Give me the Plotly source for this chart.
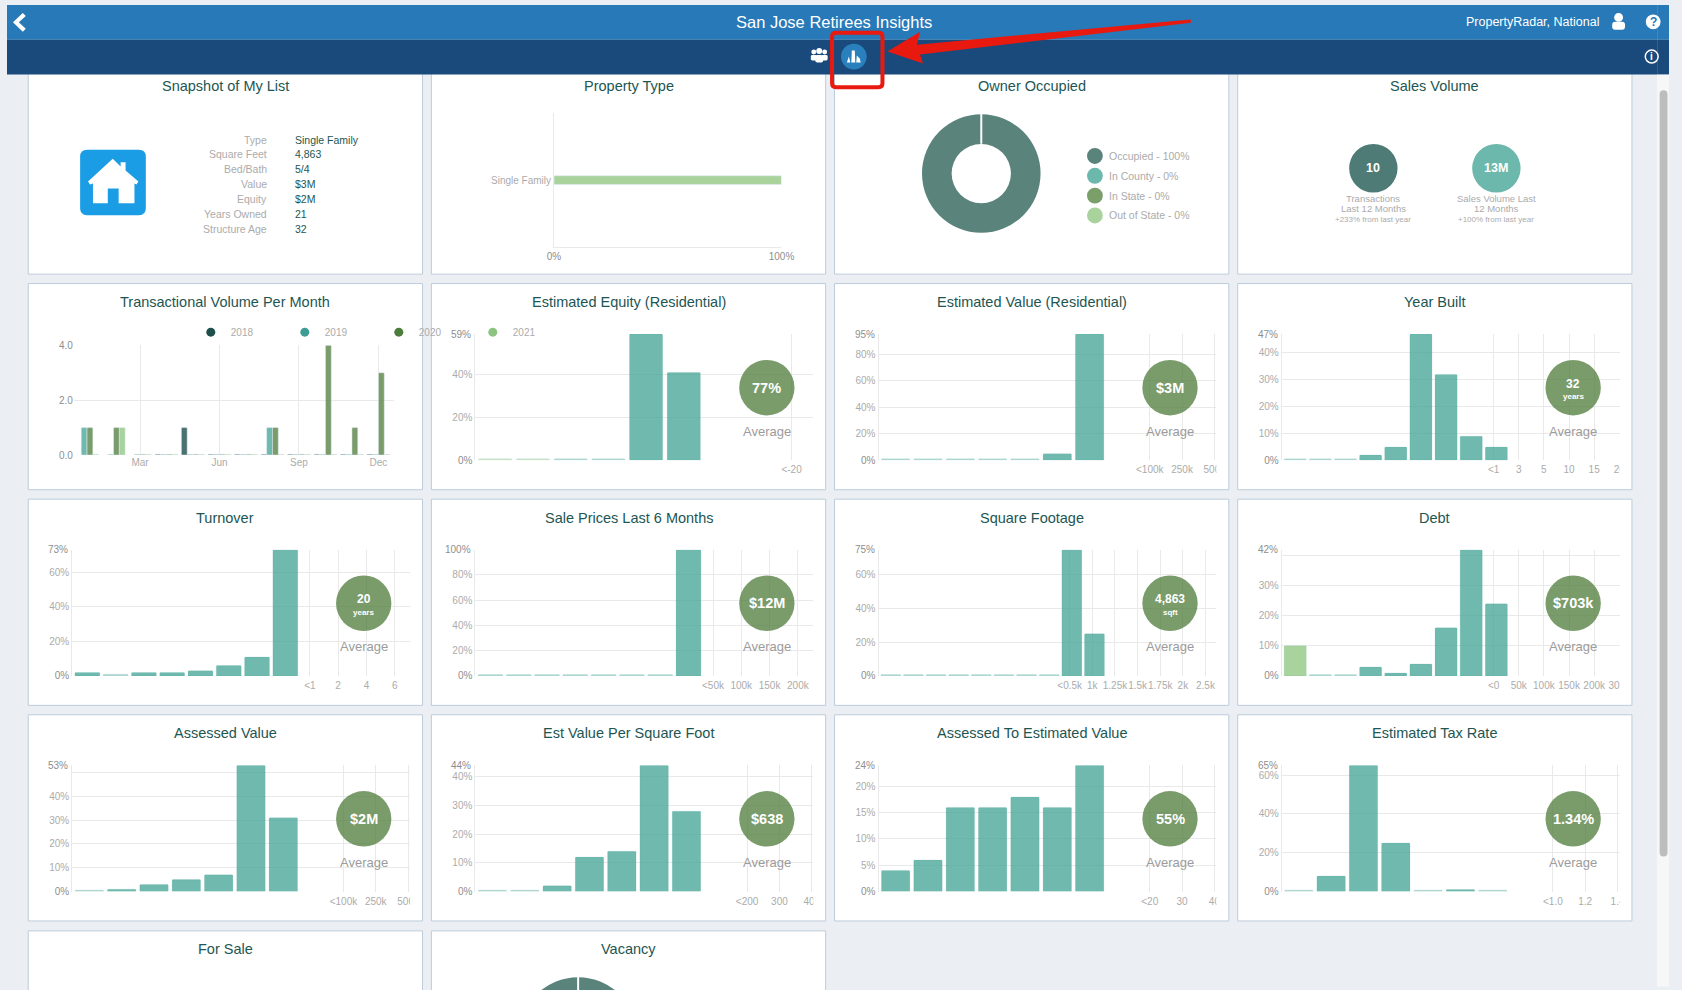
import plotly.graph_objects as go

W, H = 1682, 1150  # taller than the window, the last row runs off the bottom

FONT = "Liberation Sans"
TITLE_COLOR = "#1D5652"
GRAY = "#ABABAB"
GRAY_DARK = "#8E8E8E"
GRID = "#E9E9E9"
BG = "#EBEFF3"
BORDER = "#BCCCDB"
TEAL = "rgba(63,161,147,0.75)"
TEAL_PALE = "rgba(63,161,147,0.38)"
GREEN_LIGHT = "#A9D39D"
GREEN_PALE = "#D3E7CC"
AVG_GREEN = "rgba(80,125,60,0.76)"

# --- Data ---
MONTHS = ["Jan", "Feb", "Mar", "Apr", "May", "Jun", "Jul", "Aug", "Sep", "Oct", "Nov", "Dec"]
MONTH_TICKS = ["Mar", "Jun", "Sep", "Dec"]
YEARS = ["2018", "2019", "2020", "2021"]
VOLUME_2018 = [None, None, None, 0.03, 1, 0.03, 0.03, 0.03, 0.03, 0.03, 0.03, 0.03]
VOLUME_2019 = [1, 0.03, 0.03, 0.03, 0.03, 0.03, 0.03, 1, 0.03, 0.03, 0.03, 0.03]
VOLUME_2020 = [1, 1, 0.03, 0.03, 0.03, 0.03, 0.03, 1, 0.03, 4, 1, 3]
VOLUME_2021 = [0.03, 1, 0.03, 0.03, 0.03, 0.03, 0.03, 0.03, 0.03, 0.03, 0.03, 0.03]

OWNER_LABELS = ["Occupied - 100%", "In County - 0%", "In State - 0%", "Out of State - 0%"]
OWNER_VALUES = [100, 0, 0, 0]
VACANCY_VALUES = [100, 0, 0, 0]

SNAPSHOT_KEYS = ["Type", "Square Feet", "Bed/Bath", "Value", "Equity", "Years Owned", "Structure Age"]
SNAPSHOT_VALUES = ["Single Family", "4,863", "5/4", "$3M", "$2M", "21", "32"]

PROPERTY_TYPES = ["Single Family"]
PROPERTY_SHARE = [100]

EQUITY_VALUES = [0.7, 0.7, 0.7, 0.7, 59, 41]
EQUITY_TICKS = [0, 20, 40]
EQUITY_LABELS = ["<-20"]
VALUE_VALUES = [1.1, 1.1, 1.1, 1.1, 1.1, 5, 95]
VALUE_TICKS = [0, 20, 40, 60, 80]
VALUE_LABELS = ["<100k", "250k", "500k"]
BUILT_VALUES = [0.55, 0.55, 0.55, 2, 5, 47, 32, 9, 5]
BUILT_TICKS = [0, 10, 20, 30, 40]
BUILT_LABELS = ["<1", "3", "5", "10", "15", "20"]
TURNOVER_VALUES = [2, 1, 2, 2, 3, 6, 11, 73]
TURNOVER_TICKS = [0, 20, 40, 60]
TURNOVER_LABELS = ["<1", "2", "4", "6"]
SALES_VALUES = [1.2, 1.2, 1.2, 1.2, 1.2, 1.2, 1.2, 100]
SALES_TICKS = [0, 20, 40, 60, 80, 100]
SALES_LABELS = ["<50k", "100k", "150k", "200k"]
SQFT_VALUES = [0.9, 0.9, 0.9, 0.9, 0.9, 0.9, 0.9, 0.9, 75, 25]
SQFT_TICKS = [0, 20, 40, 60]
SQFT_LABELS = ["<0.5k", "1k", "1.25k", "1.5k", "1.75k", "2k", "2.5k"]
DEBT_VALUES = [10, 0.5, 0.5, 3, 1, 4, 16, 42, 24]
DEBT_TICKS = [0, 10, 20, 30, 40]
DEBT_LABELS = ["<0", "50k", "100k", "150k", "200k", "300k"]
ASSESSED_VALUES = [0.6, 1, 3, 5, 7, 53, 31]
ASSESSED_TICKS = [0, 10, 20, 30, 40, 50]
ASSESSED_LABELS = ["<100k", "250k", "500k"]
PERFOOT_VALUES = [0.5, 0.5, 2, 12, 14, 44, 28]
PERFOOT_TICKS = [0, 10, 20, 30, 40]
PERFOOT_LABELS = ["<200", "300", "400"]
RATIO_VALUES = [4, 6, 16, 16, 18, 16, 24]
RATIO_TICKS = [0, 5, 10, 15, 20]
RATIO_LABELS = ["<20", "30", "40"]
TAX_VALUES = [0.8, 8, 65, 25, 0.8, 1, 0.8]
TAX_TICKS = [0, 20, 40, 60]
TAX_LABELS = ["<1.0", "1.2", "1.4"]

# title, values, y ticks, x labels, average, unit, green bins, column, row, first label offset
HISTOGRAMS = [
    ("Estimated Equity (Residential)", EQUITY_VALUES, EQUITY_TICKS, EQUITY_LABELS, "77%", "", 2, 1, 1, 364.5),
    ("Estimated Value (Residential)", VALUE_VALUES, VALUE_TICKS, VALUE_LABELS, "$3M", "", 0, 2, 1, 319),
    ("Year Built", BUILT_VALUES, BUILT_TICKS, BUILT_LABELS, "32", "years", 0, 3, 1, 259),
    ("Turnover", TURNOVER_VALUES, TURNOVER_TICKS, TURNOVER_LABELS, "20", "years", 0, 0, 2, 285),
    ("Sale Prices Last 6 Months", SALES_VALUES, SALES_TICKS, SALES_LABELS, "$12M", "", 0, 1, 2, 285),
    ("Square Footage", SQFT_VALUES, SQFT_TICKS, SQFT_LABELS, "4,863", "sqft", 0, 2, 2, 238),
    ("Debt", DEBT_VALUES, DEBT_TICKS, DEBT_LABELS, "$703k", "", 1, 3, 2, 259),
    ("Assessed Value", ASSESSED_VALUES, ASSESSED_TICKS, ASSESSED_LABELS, "$2M", "", 0, 0, 3, 319),
    ("Est Value Per Square Foot", PERFOOT_VALUES, PERFOOT_TICKS, PERFOOT_LABELS, "$638", "", 0, 1, 3, 319.5),
    ("Assessed To Estimated Value", RATIO_VALUES, RATIO_TICKS, RATIO_LABELS, "55%", "", 0, 2, 3, 319),
    ("Estimated Tax Rate", TAX_VALUES, TAX_TICKS, TAX_LABELS, "1.34%", "", 0, 3, 3, 319),
]

CARD_X = [21.5, 429.5, 837.5, 1245.5]
CARD_Y = [63.5, 281, 498.5, 716, 934]
CARD_W, CARD_H = 399, 208

fig = go.Figure()
shapes = []
notes = []
axes = {}


def fx(x):
    return x / W


def fy(y):
    return 1 - y / H


def text(x, y, s, size=10, color=GRAY, anchor="center"):
    notes.append(dict(x=fx(x), y=fy(y), xref="paper", yref="paper", text=s, showarrow=False,
                      xanchor=anchor, yanchor="middle", font=dict(family=FONT, size=size, color=color)))


def rect(x0, y0, x1, y1, color, layer="below", line=None, width=0):
    shapes.append(dict(type="rect", xref="paper", yref="paper", x0=fx(x0), x1=fx(x1), y0=fy(y0), y1=fy(y1),
                       fillcolor=color, layer=layer, line=dict(color=line or color, width=width)))


def circle(cx, cy, r, color, layer="above", line=None, width=0):
    shapes.append(dict(type="circle", xref="paper", yref="paper", x0=fx(cx - r), x1=fx(cx + r),
                       y0=fy(cy + r), y1=fy(cy - r), fillcolor=color, layer=layer,
                       line=dict(color=line or color, width=width)))


def poly(points, color, layer="above"):
    path = "M" + " L".join(f"{fx(x):.5f} {fy(y):.5f}" for x, y in points) + " Z"
    shapes.append(dict(type="path", xref="paper", yref="paper", path=path, fillcolor=color,
                       layer=layer, line=dict(width=0)))


def round_rect(x0, y0, x1, y1, r, fill, line_color=None, width=0):
    def p(x, y):
        return f"{fx(x):.5f} {fy(y):.5f}"
    path = (f"M{p(x0 + r, y0)} L{p(x1 - r, y0)} Q{p(x1, y0)} {p(x1, y0 + r)} L{p(x1, y1 - r)} "
            f"Q{p(x1, y1)} {p(x1 - r, y1)} L{p(x0 + r, y1)} Q{p(x0, y1)} {p(x0, y1 - r)} "
            f"L{p(x0, y0 + r)} Q{p(x0, y0)} {p(x0 + r, y0)} Z")
    shapes.append(dict(type="path", xref="paper", yref="paper", path=path, fillcolor=fill, layer="above",
                       line=dict(color=line_color or fill, width=width)))


def card(col, row, title):
    x, y = CARD_X[col], CARD_Y[row]
    rect(x, y, x + CARD_W, y + CARD_H, "white", line=BORDER, width=1)
    text(x + CARD_W / 2, y + 18.5, title, 14.5, TITLE_COLOR)


def histogram(idx, spec):
    title, values, ticks, labels, avg, unit, green, col, row, first_px = spec
    L, T = CARD_X[col], CARD_Y[row]
    card(col, row, title)

    vmax = max(values)
    n = len(values)
    left, right = L + 44.5, L + 275.5
    slot = 229 / n
    pad = (right - left - 229) / 2 / slot
    clip = L + 386.5
    dom_y = [fy(T + 178.3), fy(T + 51)]
    gx, bx, yy = 2 * idx + 1, 2 * idx + 2, idx + 1

    # shifted label axis with its vertical grid, same slot width as the bars
    r0 = -(first_px + L - left) / slot
    axes[f"xaxis{gx}"] = dict(domain=[fx(left), fx(clip)], anchor=f"y{yy}", range=[r0, r0 + (clip - left) / slot],
                              tickvals=list(range(len(labels))), ticktext=labels, showgrid=True, gridcolor=GRID,
                              gridwidth=1, zeroline=False, showline=False, ticks="", ticklabelstandoff=2,
                              tickangle=0, tickfont=dict(family=FONT, size=10, color=GRAY))
    fig.add_trace(go.Scatter(x=[None], y=[None], xaxis=f"x{gx}", yaxis=f"y{yy}", showlegend=False, hoverinfo="skip"))

    tick_text = []
    for v in ticks:
        close = (vmax - v) / vmax * 127 < 8
        if v == 0:
            tick_text.append(f"<span style='color:{GRAY_DARK}'>0%</span>")
        else:
            tick_text.append("" if close else f"{v}%")
    axes[f"xaxis{bx}"] = dict(domain=[fx(left), fx(right)], anchor=f"y{yy}", range=[-0.5 - pad, n - 0.5 + pad],
                              showticklabels=False, showgrid=False, zeroline=False, showline=False, ticks="")
    axes[f"yaxis{yy}"] = dict(domain=dom_y, anchor=f"x{bx}", range=[0, vmax], tickvals=ticks, ticktext=tick_text,
                              showgrid=True, gridcolor=GRID, gridwidth=1, zeroline=False, showline=True,
                              linecolor=GRID, linewidth=1, ticks="", ticklabelstandoff=0,
                              tickfont=dict(family=FONT, size=10, color=GRAY))
    notes.append(dict(x=fx(left - 2), xref="paper", y=vmax, yref=f"y{yy}", text=f"{vmax}%", showarrow=False,
                      xanchor="right", yanchor="middle", font=dict(family=FONT, size=10, color=GRAY_DARK)))

    colors = []
    for i, v in enumerate(values):
        pale = v / vmax < 0.014
        if i < green:
            colors.append(GREEN_PALE if pale else GREEN_LIGHT)
        else:
            colors.append(TEAL_PALE if pale else TEAL)
    fig.add_trace(go.Bar(x=list(range(n)), y=values, xaxis=f"x{bx}", yaxis=f"y{yy}", showlegend=False,
                         marker=dict(color=colors, cornerradius=1, line=dict(color="rgba(63,161,147,0.12)", width=1))))

    # label clipped by the chart container
    rect(clip, T + 180, L + CARD_W - 1, T + 198, "white", layer="above")

    cx, cy = L + 339.5, T + 105
    circle(cx, cy, 28, AVG_GREEN)
    if unit:
        text(cx, cy - 4, f"<b>{avg}</b>", 12, "white")
        text(cx, cy + 9, f"<b>{unit}</b>", 8, "white")
    else:
        text(cx, cy, f"<b>{avg}</b>", 14.5, "white")
    text(cx, T + 149, "Average", 13, "#9C9C9C")


def donut(col, row, values, colors):
    L, T = CARD_X[col], CARD_Y[row]
    cx, cy = L + 148.5, T + 106.5
    fig.add_trace(go.Pie(values=values, labels=OWNER_LABELS, sort=False, direction="clockwise", hole=0.5,
                         textinfo="none", hoverinfo="label", showlegend=False, marker=dict(colors=colors, line=dict(width=0)),
                         domain=dict(x=[fx(cx - 60), fx(cx + 60)], y=[fy(cy + 60), fy(cy - 60)])))
    shapes.append(dict(type="line", xref="paper", yref="paper", x0=fx(cx), x1=fx(cx), y0=fy(cy - 61), y1=fy(cy - 30),
                       layer="above", line=dict(color="white", width=2)))


# --- Cards and histograms ---
card(0, 0, "Snapshot of My List")
card(1, 0, "Property Type")
card(2, 0, "Owner Occupied")
card(3, 0, "Sales Volume")
card(0, 1, "Transactional Volume Per Month")
card(0, 4, "For Sale")
card(1, 4, "Vacancy")

for i, spec in enumerate(HISTOGRAMS):
    histogram(i, spec)
next_axis = 2 * len(HISTOGRAMS) + 1
next_y = len(HISTOGRAMS) + 1

# --- Snapshot ---
round_rect(74, 146, 140.5, 212, 7, "#1A9DE5")
poly([(82, 178), (107, 155), (115, 163), (115, 158.5), (120, 158.5), (120, 167), (133, 178), (131, 181), (129, 180),
      (129, 200), (113, 200), (113, 185), (102, 185), (102, 200), (87, 200), (87, 180), (84, 181)], "white")
for i, (k, v) in enumerate(zip(SNAPSHOT_KEYS, SNAPSHOT_VALUES)):
    text(265, 135.7 + i * 15, k, 10.5, GRAY, "right")
    text(289, 135.7 + i * 15, v, 10.5, TITLE_COLOR, "left")

# --- Property type ---
xa, ya = next_axis, next_y
next_axis += 1
next_y += 1
axes[f"xaxis{xa}"] = dict(domain=[fx(553.6), fx(783.8)], anchor=f"y{ya}", range=[0, 100], tickvals=[0, 100],
                          ticktext=["0%", "100%"], showgrid=False, zeroline=False, showline=True, linecolor=GRID,
                          ticks="", tickfont=dict(family=FONT, size=10, color=GRAY_DARK))
axes[f"yaxis{ya}"] = dict(domain=[fy(244.3), fy(109)], anchor=f"x{xa}", showgrid=False, zeroline=False, showline=True,
                          linecolor=GRID, ticks="", tickfont=dict(family=FONT, size=10, color=GRAY))
fig.add_trace(go.Bar(x=PROPERTY_SHARE, y=PROPERTY_TYPES, orientation="h", width=0.065, xaxis=f"x{xa}", yaxis=f"y{ya}",
                     showlegend=False, marker=dict(color=GREEN_LIGHT)))

# --- Owner occupied ---
OWNER_COLORS = ["#5A837C", "#6DB8AC", "#7A9F69", "#A9D39D"]
donut(2, 0, OWNER_VALUES, OWNER_COLORS)
donut(1, 4, VACANCY_VALUES, OWNER_COLORS)
for i, label in enumerate(OWNER_LABELS):
    circle(1101, 152.3 + i * 20, 8, OWNER_COLORS[i])
    text(1113, 152.3 + i * 20, label, 10.5, GRAY, "left")

# --- Sales volume ---
circle(1382.8, 164.7, 24.5, "#4E7B75")
text(1382.8, 164.7, "<b>10</b>", 12.5, "white")
circle(1507.3, 164.7, 24.5, "#6DB8AC")
text(1507.3, 164.7, "<b>13M</b>", 12.5, "white")
text(1382.8, 195.7, "Transactions", 9.5)
text(1382.8, 205.7, "Last 12 Months", 9.5)
text(1382.8, 216, "+233% from last year", 8)
text(1507.3, 195.7, "Sales Volume Last", 9.5)
text(1507.3, 205.7, "12 Months", 9.5)
text(1507.3, 216, "+100% from last year", 8)

# --- Transactional volume ---
xa, ya = next_axis, next_y
axes[f"xaxis{xa}"] = dict(domain=[fx(67.6), fx(392)], anchor=f"y{ya}", type="category", categoryorder="array",
                          categoryarray=MONTHS, range=[-0.5, 11.6], tickvals=MONTH_TICKS, showgrid=True, gridcolor=GRID,
                          zeroline=False, showline=False, ticks="", tickfont=dict(family=FONT, size=10, color=GRAY))
axes[f"yaxis{ya}"] = dict(domain=[fy(454), fy(343.3)], anchor=f"x{xa}", range=[0, 4], tickvals=[0, 2, 4],
                          ticktext=["0.0", "2.0", "4.0"], showgrid=True, gridcolor=GRID, zeroline=False,
                          ticks="", tickfont=dict(family=FONT, size=10, color=GRAY_DARK))
SERIES = [VOLUME_2018, VOLUME_2019, VOLUME_2020, VOLUME_2021]
SERIES_COLORS = ["rgba(29,79,77,0.8)", "rgba(63,161,147,0.75)", "rgba(80,125,60,0.76)", "rgba(139,196,127,0.75)"]
LEGEND_COLORS = ["#1D4F4D", "#3F9C93", "#4C7D3B", "#8BC47F"]
for year, series, color, swatch in zip(YEARS, SERIES, SERIES_COLORS, LEGEND_COLORS):
    fig.add_trace(go.Bar(x=MONTHS, y=series, name=year, xaxis=f"x{xa}", yaxis=f"y{ya}", showlegend=False,
                         marker=dict(color=color, cornerradius=1)))
    fig.add_trace(go.Scatter(x=[None], y=[None], name=year, mode="markers", xaxis=f"x{xa}", yaxis=f"y{ya}",
                             marker=dict(color=swatch, size=9)))

# --- Page chrome ---
rect(0, 0, W, 35, "#2779B7", layer="above")
rect(0, 35, W, 70, "#1A4A7C", layer="above")
rect(1670, 0, W, 990, BG, layer="above")
rect(1670, 70, W, 990, "#F7F7F7", layer="above")
rect(1670, 0, W, 35, "#2779B7", layer="above")
rect(1670, 35, W, 70, "#1A4A7C", layer="above")
round_rect(1672.5, 86, 1680.5, 859, 4, "#BDBDBD")
poly([(16, 8), (19, 11), (12, 17.5), (19, 24), (16, 27), (6, 17.5)], "white")
text(837, 17.5, "San Jose Retirees Insights", 16.5, "white")
text(1613, 17, "PropertyRadar, National", 12.5, "white", "right")
# user icon
circle(1631, 12.5, 4.5, "white")
round_rect(1624.5, 17, 1637.5, 25, 3, "white")
# help icon
circle(1666, 17, 7.5, "white")
text(1666, 17, "<b>?</b>", 12, "#2779B7")
# info icon
circle(1664.5, 52, 6.5, "#1A4A7C", line="white", width=1.5)
text(1664.5, 52, "<b>i</b>", 10, "white")
# group icon
for cx_, cy_, r_ in [(816.5, 47.5, 2.5), (822, 46.5, 3), (827.5, 47.5, 2.5)]:
    circle(cx_, cy_, r_, "white")
round_rect(813.5, 50.5, 819.5, 56, 1.5, "white")
round_rect(824.5, 50.5, 830.5, 56, 1.5, "white")
round_rect(818, 50.5, 826, 58, 2, "white")
# active insights icon
circle(857, 52, 13, "#2A80BD")
poly([(850, 58), (852, 52), (853.5, 58)], "white")
poly([(854.5, 58), (855, 46), (858, 46), (858.5, 58)], "white")
poly([(859.5, 58), (860, 51), (863, 54), (864, 58)], "white")
# red callout
round_rect(835, 28, 886, 83, 4, "rgba(0,0,0,0)", "#E8190F", 4)
poly([(891, 47), (924, 27), (921, 40), (1198, 14.5), (1198, 18), (924, 50), (927, 59)], "#E8190F")

fig.update_layout(
    width=W, height=H, autosize=False,
    margin=dict(l=0, r=0, t=0, b=0),
    paper_bgcolor=BG, plot_bgcolor="rgba(0,0,0,0)",
    barmode="group", bargap=0.12, bargroupgap=0,
    font=dict(family=FONT, size=10, color=GRAY),
    hovermode=False,
    legend=dict(orientation="h", x=fx(186), y=fy(330), xanchor="left", yanchor="middle",
                bgcolor="rgba(0,0,0,0)", entrywidth=49, entrywidthmode="pixels", itemclick=False, itemdoubleclick=False,
                font=dict(family=FONT, size=10, color=GRAY)),
    shapes=shapes, annotations=notes,
    **axes,
)

clip_page = ("document.documentElement.style.overflow='hidden';document.body.style.margin='0';"
             "document.body.style.overflow='hidden';document.body.style.height='990px';")
fig.write_html("out.html", post_script=clip_page, config={"displayModeBar": False})
